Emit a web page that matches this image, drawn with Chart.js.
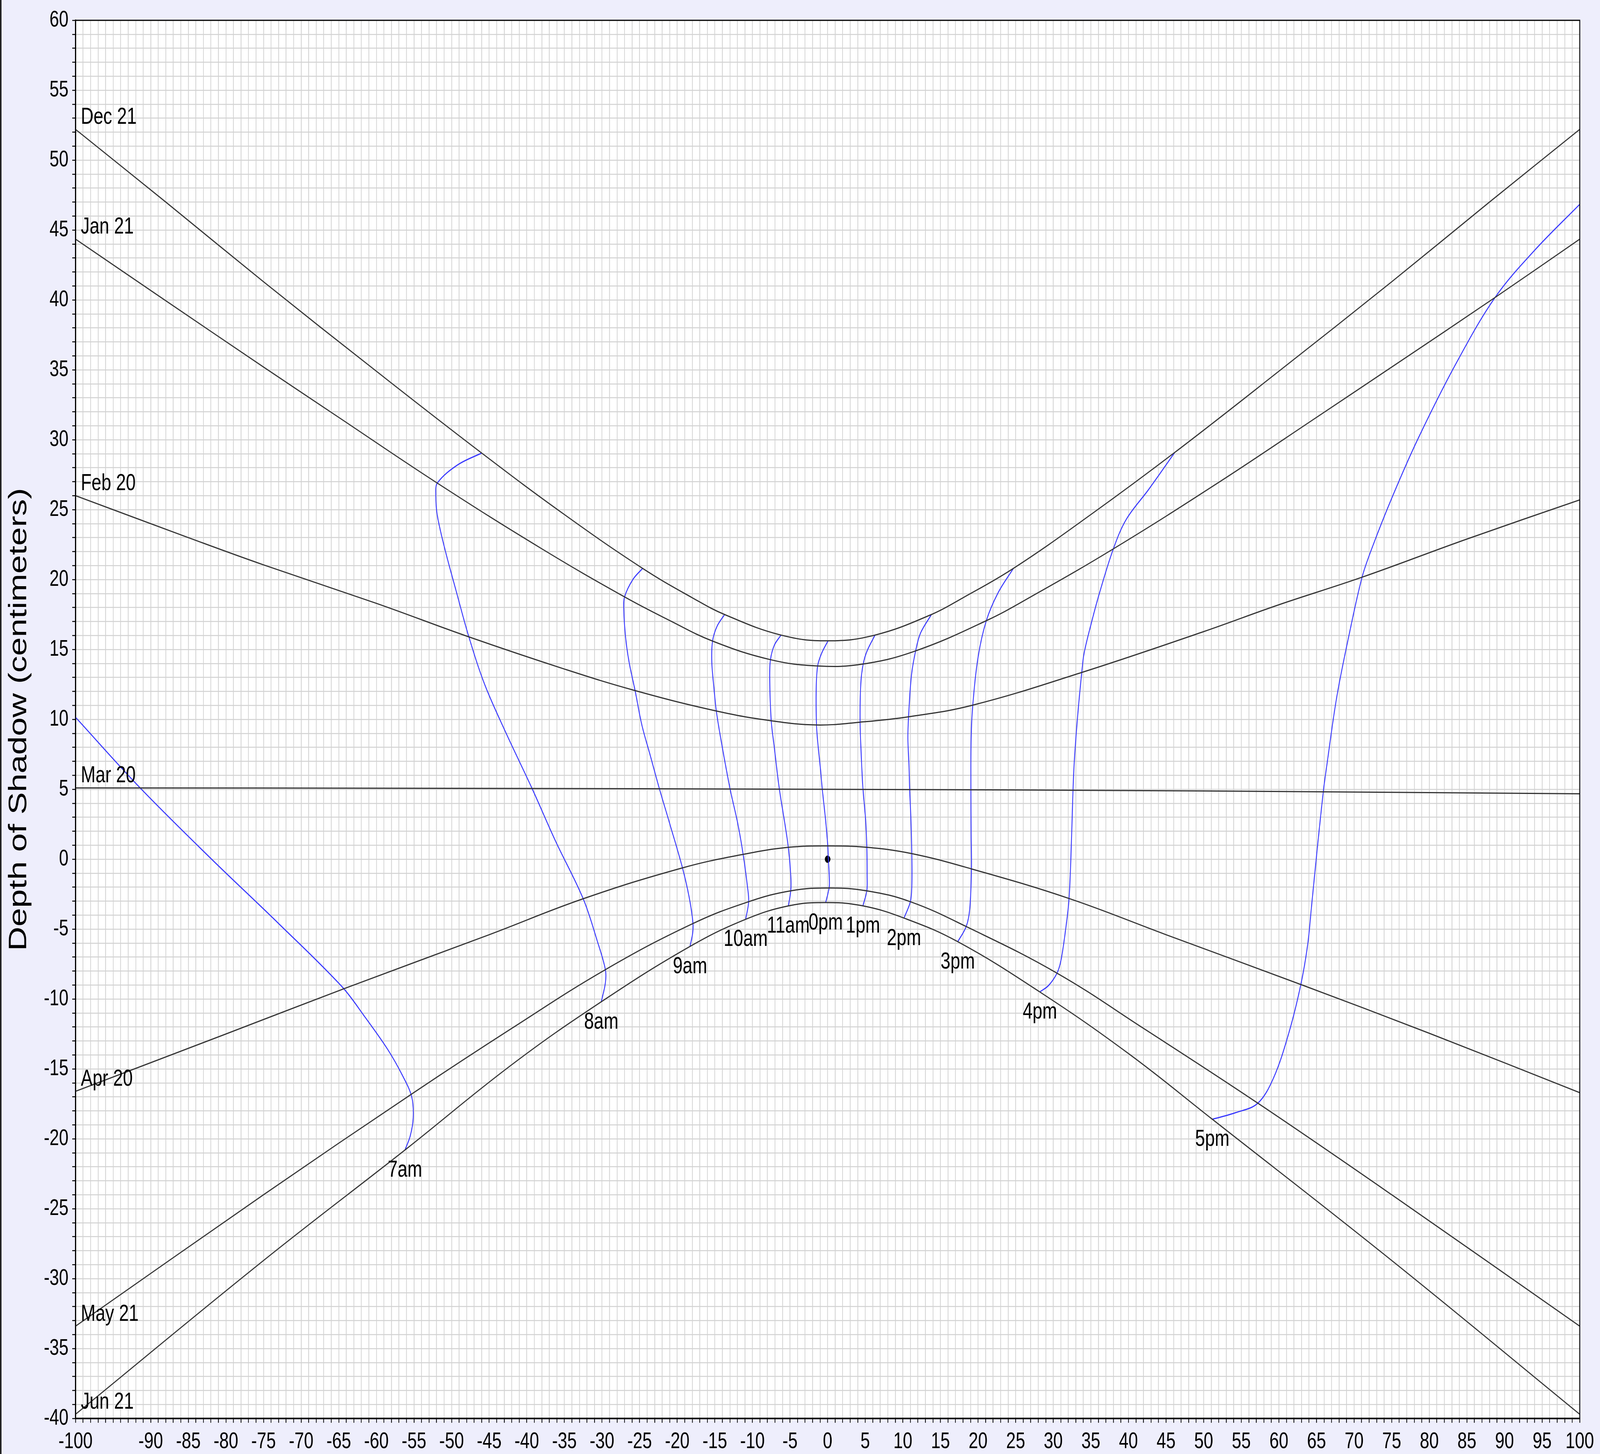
<!DOCTYPE html>
<html>
<head>
<meta charset="utf-8">
<script src="https://cdn.jsdelivr.net/npm/chart.js@4.4.1/dist/chart.umd.min.js"></script>
<style>
  html, body { margin: 0; padding: 0; overflow: hidden; background: #eeeefc; }
  canvas { display: block; }
</style>
</head>
<body>
<canvas id="sundial" width="5445" height="3723" style="width:100vw;height:100vh"></canvas>
<script>
// Date lines (x, depth)
const dec21 = [[-100,52.2],[-88,47.0],[-75,41.3],[-60,34.9],[-46,29.05],[-35,24.65],[-24.6,20.8],[-18,18.7],[-13.7,17.5],[-6.2,16.03],[0,15.62],[6.3,16.03],[13.8,17.5],[18,18.7],[24.7,20.8],[35,24.65],[46.1,29.07],[60,34.9],[75,41.3],[88,47.0],[100,52.2]];
const jan21 = [[-100,44.35],[-88.7,40.2],[-75,35.2],[-65,31.6],[-51.9,26.9],[-38,22.2],[-27,18.76],[-21.1,17.1],[-15.3,15.6],[-7.6,14.27],[-1.3,13.82],[4.7,13.96],[11.7,14.9],[21.1,17.06],[27,18.76],[38,22.2],[52,26.95],[65,31.6],[75,35.2],[88.7,40.16],[100,44.35]];
const feb20 = [[-100,26.0],[-85,23.0],[-75,21.05],[-60,18.3],[-47.7,15.9],[-35,13.6],[-25.6,12.06],[-14.8,10.6],[-7.5,9.9],[-1.5,9.6],[4.3,9.8],[10.8,10.19],[19.3,11.02],[33.8,13.36],[50,16.28],[60,18.2],[71.06,20.17],[85,22.9],[100,25.7]];
const mar20 = [[-100,5.1],[-50,5.07],[0,5.0],[50,4.88],[100,4.68]];
const apr20 = [[-100,-16.6],[-80,-12.5],[-64,-9.2],[-45,-5.4],[-32.5,-2.83],[-19.3,-0.62],[-11.2,0.35],[-5.2,0.85],[0,0.95],[5.2,0.85],[11.2,0.4],[19.1,-0.69],[32.1,-2.81],[45,-5.4],[62.9,-8.96],[80,-12.45],[100,-16.7]];
const may21 = [[-100,-33.4],[-75,-24.0],[-55.1,-16.72],[-42,-12.1],[-29.55,-7.9],[-17.9,-4.6],[-10.5,-3.04],[-4.9,-2.26],[0.2,-2.06],[5.2,-2.26],[11.0,-3.04],[18.4,-4.81],[30.5,-8.15],[42,-12.1],[57.2,-17.45],[75,-24.0],[100,-33.4]];
const jun21 = [[-100,-39.7],[-75,-28.7],[-56.2,-20.8],[-42,-14.7],[-30.1,-10.2],[-18.3,-6.24],[-10.9,-4.3],[-5.2,-3.34],[-0.3,-3.1],[4.7,-3.34],[10.2,-4.22],[17.3,-5.9],[28.2,-9.49],[40,-13.9],[51.15,-18.6],[75,-28.7],[100,-39.7]];

// Hour lines, from the Dec 21 end down to the Jun 21 end
const am7 = [[-100,10.15],[-91.5,5.15],[-82,0.05],[-73,-4.6],[-64.6,-9.1],[-61.5,-11.3],[-58.5,-13.6],[-56.5,-15.5],[-55.3,-17.0],[-55.1,-18.5],[-55.5,-19.8],[-56.2,-20.8]];
const am8 = [[-46.0,29.05],[-49.2,28.2],[-51.9,26.9],[-52.1,26.05],[-51.9,24.6],[-50.9,22.2],[-49.4,19.2],[-47.7,15.9],[-45.6,12.5],[-42.8,9.07],[-39.3,5.06],[-36.2,1.32],[-32.5,-2.83],[-30.6,-5.9],[-29.55,-7.9],[-29.55,-8.85],[-30.1,-10.2]];
const am9 = [[-24.6,20.8],[-25.9,20.0],[-27.0,18.76],[-27.1,17.84],[-26.87,15.9],[-26.4,14.1],[-25.6,12.06],[-24.7,9.6],[-23.6,7.45],[-22.4,5.1],[-21.0,2.55],[-19.3,-0.62],[-18.4,-2.75],[-17.9,-4.6],[-17.95,-5.3],[-18.3,-6.24]];
const am10 = [[-13.7,17.5],[-14.7,16.66],[-15.3,15.6],[-15.4,14.1],[-15.1,12.15],[-14.8,10.6],[-14.2,8.6],[-13.0,5.1],[-11.95,2.55],[-11.23,0.33],[-10.66,-1.96],[-10.5,-3.04],[-10.9,-4.3]];
const am11 = [[-6.2,16.03],[-7.1,15.29],[-7.6,14.27],[-7.7,12.94],[-7.5,9.9],[-7.1,8.04],[-6.44,5.1],[-5.63,2.35],[-5.23,0.85],[-4.9,-1.18],[-4.9,-2.26],[-5.23,-3.34]];
const pm0 = [[0.05,15.62],[-0.82,14.7],[-1.33,13.82],[-1.52,12.15],[-1.48,9.6],[-1.29,8.23],[-0.92,6.27],[-0.73,5.1],[-0.26,2.74],[0.02,0.95],[0.1,0],[0.24,-1.57],[0.2,-2.06],[-0.26,-3.1]];
const pm1 = [[6.3,16.03],[5.25,14.9],[4.73,13.96],[4.41,12.55],[4.32,9.8],[4.5,7.06],[4.69,5.1],[5.06,2.74],[5.21,0.85],[5.25,-1.18],[5.21,-2.26],[4.69,-3.34]];
const pm2 = [[13.8,17.5],[12.35,16.17],[11.7,14.9],[11.14,13.13],[10.76,10.19],[10.67,8.63],[10.82,6.67],[10.9,5.1],[11.08,2.74],[11.19,0.4],[11.19,-1.96],[11.0,-3.04],[10.15,-4.22]];
const pm3 = [[24.7,20.8],[22.63,19.02],[21.1,17.06],[20.02,14.5],[19.3,11.02],[19.08,8.63],[19.05,5.1],[19.08,1.76],[19.12,-0.69],[18.9,-3.53],[18.43,-4.81],[17.3,-5.9]];
const pm4 = [[46.13,29.07],[42.69,26.45],[39.7,24.3],[37.98,22.18],[36.11,18.97],[34.91,16.57],[34.09,14.7],[33.79,13.36],[33.27,10.42],[32.82,7.21],[32.63,5.02],[32.42,1.33],[32.1,-2.81],[31.63,-5.08],[31.03,-7.22],[30.5,-8.15],[29.38,-9.03],[28.22,-9.49]];
const pm5 = [[100,46.84],[94,43.55],[88.72,40.16],[83.5,35.4],[78.46,30.03],[75.1,25.94],[72.41,22.3],[71.06,20.17],[69.38,16.17],[67.7,11.62],[66.35,6.63],[65.92,4.9],[65.01,0.27],[64.34,-3.37],[63.83,-6.1],[62.92,-8.96],[61.31,-12.45],[59.29,-15.64],[57.2,-17.45],[54.24,-18.13],[51.15,-18.6]];

const gnomon = [[0, 0]];

const dateNames = ['Dec 21', 'Jan 21', 'Feb 20', 'Mar 20', 'Apr 20', 'May 21', 'Jun 21'];
const dateSeries = [dec21, jan21, feb20, mar20, apr20, may21, jun21];
const hourNames = ['7am', '8am', '9am', '10am', '11am', '0pm', '1pm', '2pm', '3pm', '4pm', '5pm'];
const hourSeries = [am7, am8, am9, am10, am11, pm0, pm1, pm2, pm3, pm4, pm5];

const xTickLabels = [-100, -90, -85, -80, -75, -70, -65, -60, -55, -50, -45, -40, -35, -30, -25, -20, -15, -10, -5, 0, 5, 10, 15, 20, 25, 30, 35, 40, 45, 50, 55, 60, 65, 70, 75, 80, 85, 90, 95, 100];
const yTickLabels = [-40, -35, -30, -25, -20, -15, -10, -5, 0, 5, 10, 15, 20, 25, 30, 35, 40, 45, 50, 55, 60];

const FONT = '"Liberation Sans", Arial, Helvetica, sans-serif';
const toPoints = arr => arr.map(p => ({ x: p[0], y: p[1] }));

const datasets = [];
dateSeries.forEach((s, i) => {
    datasets.push({
        label: dateNames[i],
        data: toPoints(s),
        showLine: true,
        borderColor: '#333333',
        borderWidth: 3,
        pointRadius: 0,
        tension: 0.4
    });
});
hourSeries.forEach((s, i) => {
    datasets.push({
        label: hourNames[i],
        data: toPoints(s),
        showLine: true,
        borderColor: '#3535ff',
        borderWidth: 3,
        pointRadius: 0,
        tension: 0.35
    });
});
datasets.push({
    label: 'gnomon',
    data: toPoints(gnomon),
    showLine: false,
    pointRadius: 9,
    backgroundColor: '#000',
    borderColor: '#000'
});

// Background, frame and the text labels on the curves
const decorations = {
    id: 'decorations',
    beforeDraw(chart) {
        const { ctx, chartArea: a } = chart;
        ctx.save();
        ctx.fillStyle = '#eeeefc';
        ctx.fillRect(0, 0, chart.width, chart.height);
        ctx.fillStyle = '#ffffff';
        ctx.fillRect(a.left, a.top, a.right - a.left, a.bottom - a.top);
        ctx.fillStyle = '#222';
        ctx.fillRect(0, 0, 5, chart.height);
        ctx.restore();
    },
    afterDraw(chart) {
        const { ctx, chartArea: a } = chart;
        const xs = chart.scales.x, ys = chart.scales.y;
        ctx.save();
        ctx.strokeStyle = '#000';
        ctx.lineWidth = 3;
        ctx.strokeRect(a.left, a.top, a.right - a.left, a.bottom - a.top);

        ctx.fillStyle = '#000';
        ctx.font = '60px ' + FONT;
        ctx.textAlign = 'left';
        ctx.textBaseline = 'alphabetic';
        dateSeries.forEach((s, i) => {
            ctx.fillText(dateNames[i], xs.getPixelForValue(-99.3), ys.getPixelForValue(s[0][1]) - 14);
        });

        ctx.textAlign = 'center';
        ctx.textBaseline = 'middle';
        hourSeries.forEach((s, i) => {
            const end = s[s.length - 1];
            ctx.fillText(hourNames[i], xs.getPixelForValue(end[0]), ys.getPixelForValue(end[1]) + 52);
        });
        ctx.restore();
    }
};

new Chart(document.getElementById('sundial'), {
    type: 'scatter',
    data: { datasets },
    options: {
        responsive: false,
        devicePixelRatio: 1,
        animation: false,
        layout: { padding: { top: 52, right: 69, left: 0, bottom: 0 } },
        plugins: {
            legend: { display: false },
            tooltip: { enabled: false }
        },
        scales: {
            x: {
                type: 'linear',
                min: -100,
                max: 100,
                afterFit: s => { s.height = 91; },
                ticks: {
                    stepSize: 1,
                    autoSkip: false,
                    maxRotation: 0,
                    padding: 14,
                    color: '#000',
                    font: { family: FONT, size: 58 },
                    callback: v => xTickLabels.includes(v) ? String(v) : ''
                },
                grid: { color: '#d2d2d2', lineWidth: 2.5, tickColor: '#000', tickLength: 11, tickWidth: 2.5 },
                border: { color: '#000', width: 4 }
            },
            y: {
                type: 'linear',
                min: -40,
                max: 60,
                afterFit: s => { s.width = 257; },
                title: {
                    display: true,
                    text: 'Depth of Shadow (centimeters)',
                    color: '#000',
                    font: { family: FONT, size: 86 },
                    padding: { top: 14, bottom: 0 }
                },
                ticks: {
                    stepSize: 1,
                    autoSkip: false,
                    padding: 13,
                    color: '#000',
                    font: { family: FONT, size: 58 },
                    callback: v => yTickLabels.includes(v) ? String(v) : ''
                },
                grid: { color: '#d2d2d2', lineWidth: 2.5, tickColor: '#000', tickLength: 11, tickWidth: 2.5 },
                border: { color: '#000', width: 4 }
            }
        }
    },
    plugins: [decorations]
});
</script>
</body>
</html>
